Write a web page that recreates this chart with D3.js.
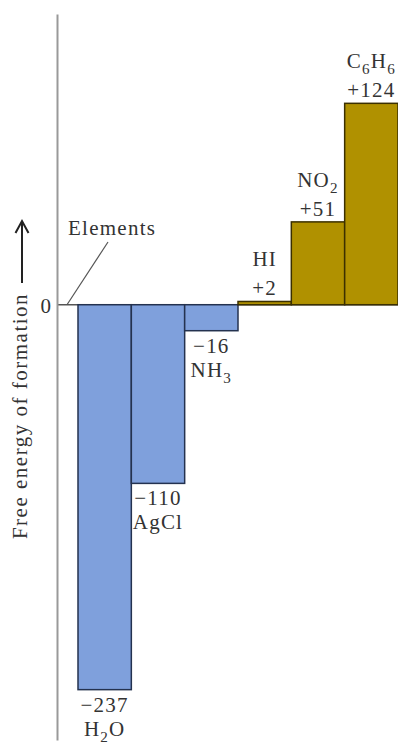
<!DOCTYPE html>
<html>
<head>
<meta charset="utf-8">
<script src="https://cdn.jsdelivr.net/npm/d3@7"></script>
<style>
  html, body { margin: 0; padding: 0; background: #fff; }
  svg { display: block; }
  svg text { font-family: "Liberation Serif", "Times New Roman", Times, serif !important; fill: #333; }
</style>
</head>
<body>
<script>
// Standard free energies of formation (kJ/mol)
const compounds = ["H2O", "AgCl", "NH3", "HI", "NO2", "C6H6"];
const energies = [-237, -110, -16, 2, 51, 124];
const zeroTick = [0];
const axisTitle = "Free energy of formation";
const referenceLabel = "Elements";

const W = 398, H = 746;
const svg = d3.select("body").append("svg")
  .attr("width", W).attr("height", H)
  .attr("font-family", "Liberation Serif, serif");

const axisX = 57;
const x = d3.scaleBand().domain(compounds).range([78, 398]).padding(0);
const y = d3.scaleLinear().domain([-268, 179]).range([740, 14]);

const fontSize = 21;
const subShift = 6;

// zero reference line (behind the bars)
svg.append("line")
  .attr("x1", axisX).attr("x2", W)
  .attr("y1", y(0)).attr("y2", y(0))
  .attr("stroke", "#555").attr("stroke-width", 1.5);

// vertical axis with only the zero tick
const axis = svg.append("g")
  .attr("transform", `translate(${axisX},0)`)
  .call(d3.axisLeft(y).tickValues(zeroTick).tickSize(0).tickSizeOuter(0).tickPadding(6).tickFormat(d3.format("d")));
axis.attr("font-family", null);
axis.select(".domain").attr("stroke", "#999").attr("stroke-width", 2);
axis.selectAll(".tick text")
  .attr("font-size", fontSize).attr("dy", "0.36em");

// bars
const rows = compounds.map((c, i) => ({ name: c, value: energies[i] }));
svg.append("g").selectAll("rect").data(rows).join("rect")
  .attr("x", d => x(d.name))
  .attr("width", x.bandwidth())
  .attr("y", d => y(Math.max(0, d.value)))
  .attr("height", d => Math.abs(y(d.value) - y(0)))
  .attr("fill", d => d.value < 0 ? "#7fa0dc" : "#b09100")
  .attr("stroke", d => d.value < 0 ? "#24324f" : "#3b3000")
  .attr("stroke-width", 1.5);

// chemical formula: digits become lowered, smaller subscripts
function formula(sel, name) {
  const parts = name.match(/[A-Za-z]+|\d+/g);
  let lowered = false;
  parts.forEach(p => {
    const span = sel.append("tspan").text(p);
    if (/\d/.test(p)) {
      span.attr("dy", subShift).attr("font-size", fontSize * 0.72);
      lowered = true;
    } else if (lowered) {
      span.attr("dy", -subShift);
      lowered = false;
    }
  });
}

const fmt = d3.format("+d");
const labels = svg.append("g").attr("font-size", fontSize).attr("letter-spacing", 1.2);
rows.forEach(d => {
  const cx = x(d.name) + x.bandwidth() / 2;
  let valueY, nameY;
  if (d.value >= 0) {
    valueY = y(d.value) - 6;
    nameY = valueY - 29;
  } else {
    valueY = y(d.value) + 22;
    nameY = valueY + 24;
  }
  labels.append("text").attr("x", cx).attr("y", valueY)
    .attr("text-anchor", "middle").text(fmt(d.value));
  const t = labels.append("text").attr("x", cx).attr("y", nameY).attr("text-anchor", "middle");
  formula(t, d.name);
});

// "Elements" reference callout
svg.append("line")
  .attr("x1", axisX + 10).attr("y1", y(0))
  .attr("x2", 108).attr("y2", 242)
  .attr("stroke", "#555").attr("stroke-width", 1.2);
svg.append("text")
  .attr("x", 68).attr("y", 235)
  .attr("font-size", fontSize)
  .attr("textLength", 87).attr("lengthAdjust", "spacing")
  .text(referenceLabel);

// rotated axis title with upward arrow
svg.append("text")
  .attr("transform", `translate(27,416) rotate(-90)`)
  .attr("text-anchor", "middle")
  .attr("font-size", fontSize)
  .attr("letter-spacing", 1.5)
  .text(axisTitle);
svg.append("path")
  .attr("d", "M22,283V222 M15.5,233 L22,221 L28.5,233")
  .attr("fill", "none").attr("stroke", "#222").attr("stroke-width", 2);
</script>
</body>
</html>
